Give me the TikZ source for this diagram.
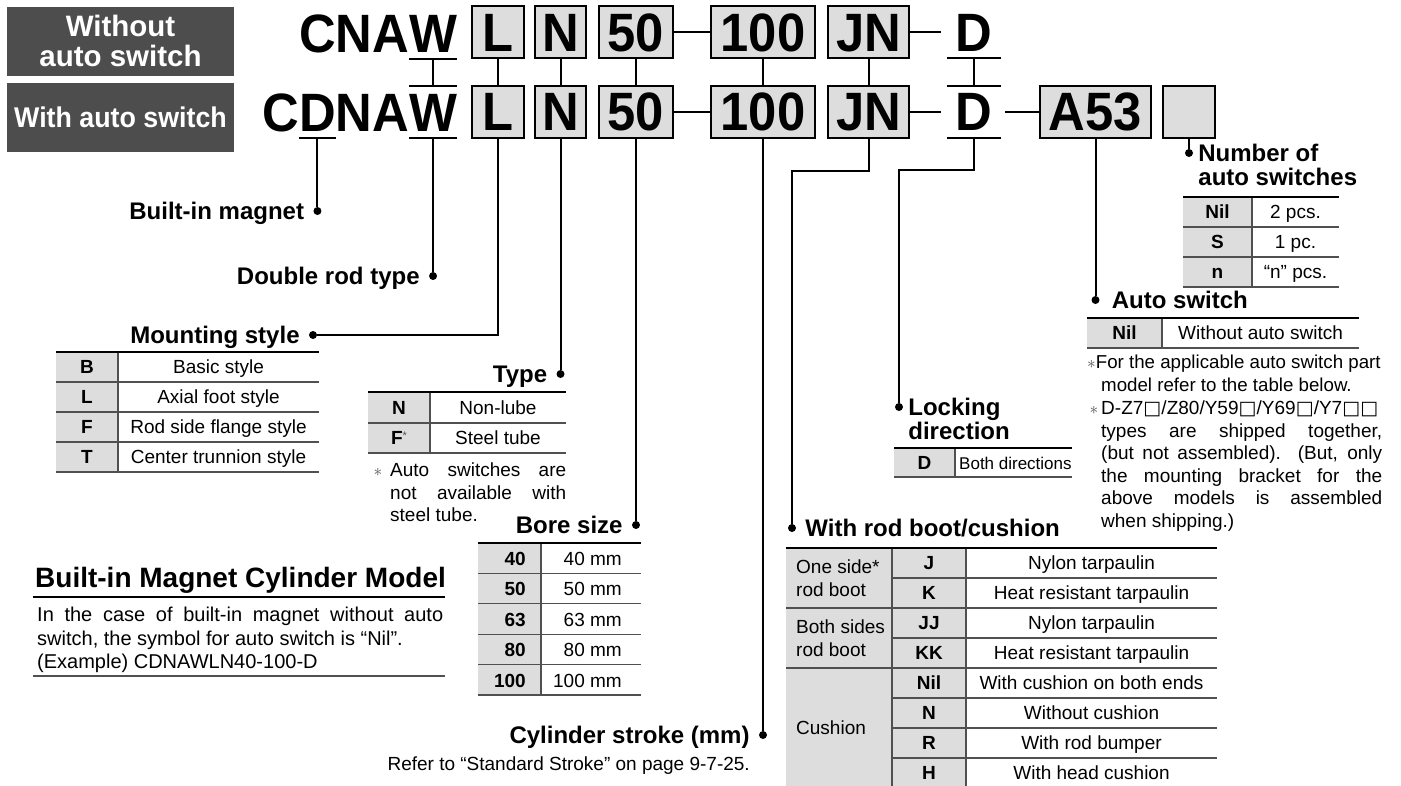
\documentclass[tikz,border=0pt]{standalone}
\usepackage{fontspec}
\setmainfont{Liberation Sans}
\newfontfamily\codefont[FakeStretch=0.94]{Liberation Sans}
\newfontfamily\symfont{DejaVu Sans}
\usetikzlibrary{positioning}
\setlength{\parindent}{0pt}
\hyphenpenalty=10000
\exhyphenpenalty=10000
\newcommand{\sqbox}{\makebox[0.95em]{\symfont □}}
\definecolor{headgray}{RGB}{77,77,77}
\definecolor{boxgray}{RGB}{221,221,221}
\definecolor{rulegray}{RGB}{80,80,80}
\tikzset{
  conn/.style={line width=2pt},
  bullet/.style={circle, fill, inner sep=0pt, minimum size=8pt},
  header/.style={fill=headgray, text=white, minimum width=227pt, minimum height=69pt, align=center},
  letter/.style={font=\codefont\bfseries\fontsize{54}{54}\selectfont, inner sep=0pt, outer xsep=0pt, outer ysep=7pt, text height=38pt, text depth=0pt},
  codebox/.style={draw, line width=2pt, fill=boxgray, minimum height=52pt, minimum width=#1, inner sep=0pt, font=\codefont\bfseries\fontsize{54}{54}\selectfont, text height=38pt, text depth=0pt},
  lbl/.style={font=\bfseries\fontsize{24}{26}\selectfont, inner sep=0pt, text height=17pt, text depth=0pt},
  lbltwo/.style={font=\bfseries\fontsize{24}{24}\selectfont, inner sep=0pt, align=left},
  toprule/.style={line width=2.5pt},
  rowrule/.style={line width=1.3pt, draw=rulegray},
  cellc/.style={font=\bfseries\fontsize{19}{19}\selectfont, inner sep=0pt, text height=13.6pt, text depth=0pt},
  celld/.style={font=\fontsize{19}{19}\selectfont, inner sep=0pt, text height=13.6pt, text depth=0pt},
  notetext/.style={font=\fontsize{19}{22.5}\selectfont, inner sep=0pt, align=justify},
}

\begin{document}
\begin{tikzpicture}[x=1pt, y=-1pt]
  \useasboundingbox (0,0) rectangle (1401,785);

  % headers
  \node[header, font=\bfseries\fontsize{29.5}{29.5}\selectfont] (hWithout) at (120.5,41) {Without\\auto switch};
  \node[header, font=\codefont\bfseries\fontsize{28.5}{29}\selectfont] (hWith) at (120.5,117.5) {With auto switch};

  % model codes, top row
  \node[letter, anchor=base east] (w1) at (457,52) {W};
  \node[letter, anchor=base east] (cna1) at (w1.base west) {CNA};
  \node[codebox=52pt] (l1) at (498,32) {L};
  \node[codebox=51pt] (n1) at (560.5,32) {N};
  \node[codebox=74pt] (s1) at (636,32) {50};
  \node[codebox=104pt] (k1) at (763,32) {100};
  \node[codebox=81pt] (j1) at (868.5,32) {JN};
  \node[letter, outer xsep=9pt] (dd1) at (974,32) {D};

  % model codes, bottom row
  \node[letter, anchor=base east] (w2) at (457,131) {W};
  \node[letter, anchor=base east] (na2) at (w2.base west) {NA};
  \node[letter, anchor=base east] (d2) at (na2.base west) {D};
  \node[letter, anchor=base east] (c2) at (d2.base west) {C};
  \node[codebox=52pt] (l2) at (498,111.5) {L};
  \node[codebox=51pt] (n2) at (560.5,111.5) {N};
  \node[codebox=74pt] (s2) at (636,111.5) {50};
  \node[codebox=104pt] (k2) at (763,111.5) {100};
  \node[codebox=81pt] (j2) at (868.5,111.5) {JN};
  \node[letter, outer xsep=9pt] (dd2) at (974,111.5) {D};
  \node[codebox=111pt] (a2) at (1095.5,111.5) {A53};
  \node[codebox=52pt] (e2) at (1189,111.5) {};

  % under- and overlines
  \draw[conn] (w1.south west) -- (w1.south east);
  \draw[conn] (w2.north west) -- (w2.north east);
  \draw[conn] (w2.south west) -- (w2.south east);
  \draw[conn] (d2.south west) -- (d2.south east);
  \draw[conn] (dd1.south west) -- (dd1.south east);
  \draw[conn] (dd2.north west) -- (dd2.north east);
  \draw[conn] (dd2.south west) -- (dd2.south east);

  % links between rows and dashes
  \foreach \a/\b in {w1/w2, l1/l2, n1/n2, s1/s2, k1/k2, j1/j2, dd1/dd2}
    \draw[conn] (\a.south) -- (\b.north);
  \draw[conn] (s1.east) -- (k1.west);
  \draw[conn] (s2.east) -- (k2.west);
  \draw[conn] (j1.east) -- ([xshift=-6pt]dd1.west);
  \draw[conn] (j2.east) -- ([xshift=-6pt]dd2.west);
  \draw[conn] ([xshift=4pt]dd2.east) -- (a2.west);

  % bullets
  \node[bullet] (pMag) at (d2.south |- 0,211) {};
  \node[bullet] (pRod) at (w2.south |- 0,276) {};
  \node[bullet] (pMount) at (313,335) {};
  \node[bullet] (pType) at (n2.south |- 0,374) {};
  \node[bullet] (pBore) at (s2.south |- 0,525) {};
  \node[bullet] (pStroke) at (k2.south |- 0,735) {};
  \node[bullet] (pBoot) at (792,528) {};
  \node[bullet] (pLock) at (899,407) {};
  \node[bullet] (pSwitch) at (a2.south |- 0,300) {};
  \node[bullet] (pNum) at (e2.south |- 0,153) {};

  \draw[conn] (d2.south) -- (pMag);
  \draw[conn] (w2.south) -- (pRod);
  \draw[conn] (l2.south) |- (pMount);
  \draw[conn] (n2.south) -- (pType);
  \draw[conn] (s2.south) -- (pBore);
  \draw[conn] (k2.south) -- (pStroke);
  \draw[conn] (j2.south) -- ++(0,32) -| (pBoot);
  \draw[conn] (dd2.south) -- ++(0,32) -| (pLock);
  \draw[conn] (a2.south) -- (pSwitch);
  \draw[conn] (e2.south) -- (pNum);

  % labels
  \node[lbl, left=9pt of pMag] (tMag) {Built-in magnet};
  \node[lbl, left=9pt of pRod] (tRod) {Double rod type};
  \node[lbl, left=9pt of pMount] (tMount) {Mounting style};
  \node[lbl, left=9pt of pType] (tType) {Type};
  \node[lbl, left=9pt of pBore] (tBore) {Bore size};
  \node[lbl, left=9pt of pStroke] (tStroke) {Cylinder stroke (mm)};
  \node[lbl, right=9pt of pBoot] (tBoot) {With rod boot/cushion};
  \node[lbl, right=12pt of pSwitch] (tSwitch) {Auto switch};
  \node[lbltwo, anchor=north west] (tLock) at ([xshift=5pt, yshift=8.6pt]pLock.east) {Locking\\direction};
  \node[lbltwo, anchor=north west] (tNum) at ([xshift=5pt, yshift=8.6pt]pNum.east) {Number of\\auto switches};
  \node[celld, anchor=base east] (tRefer) at (750,770) {Refer to “Standard Stroke” on page 9-7-25.};

  % mounting style table
  \fill[boxgray] (56,352) rectangle (118,472);
  \foreach \c/\d [count=\i] in {B/Basic style, L/Axial foot style, F/Rod side flange style, T/Center trunnion style} {
    \node[cellc] (mc\i) at (87,{337+30*\i}) {\c};
    \node[celld] (md\i) at (218.5,{337+30*\i}) {\d};
    \draw[rowrule] (56,{352+30*\i}) -- (319,{352+30*\i});
  }
  \draw[rowrule] (118,352) -- (118,472);
  \draw[toprule] (56,352) -- (319,352);

  % type table
  \fill[boxgray] (368,392) rectangle (430,453);
  \node[cellc] (tc1) at (399,407.5) {N};
  \node[celld] (td1) at (498,407.5) {Non-lube};
  \node[cellc] (tc2) at (399,438) {F\raisebox{5pt}{\mdseries\fontsize{11}{11}\selectfont\color{rulegray}*}};
  \node[celld] (td2) at (498,438) {Steel tube};
  \draw[rowrule] (368,423) -- (566,423);
  \draw[rowrule] (368,453) -- (566,453);
  \draw[rowrule] (430,392) -- (430,453);
  \draw[toprule] (368,392) -- (566,392);
  \node[notetext, text width=176pt, anchor=north west] (typeNote) at (390,463)
    {\llap{\textcolor{rulegray}{$\ast$}\hspace{8pt}}Auto switches are\linebreak not available with\linebreak steel tube.};

  % bore size table
  \fill[boxgray] (478,543) rectangle (541,695);
  \foreach \c [count=\i] in {40, 50, 63, 80, 100} {
    \node[cellc, anchor=east] (bc\i) at (526,{528.2+30.4*\i}) {\c};
    \node[celld, anchor=east] (bd\i) at (622,{528.2+30.4*\i}) {\c\ mm};
    \draw[rowrule] (478,{543+30.4*\i}) -- (641,{543+30.4*\i});
  }
  \draw[rowrule] (541,543) -- (541,695);
  \draw[toprule] (478,543) -- (641,543);

  % built-in magnet cylinder model
  \node[anchor=base west, inner sep=0pt, font=\bfseries\fontsize{28}{28}\selectfont] (tModel) at (35,587) {Built-in Magnet Cylinder Model};
  \draw[toprule] (33,597) -- (445,597);
  \node[notetext, text width=406pt, anchor=north west, font=\fontsize{20}{23.5}\selectfont] (modelNote) at (37,607)
    {In the case of built-in magnet without auto switch, the symbol for auto switch is “Nil”.\\(Example) CDNAWLN40-100-D};
  \draw[rowrule] (33,676) -- (445,676);

  % locking direction table
  \fill[boxgray] (894,448) rectangle (955,477);
  \node[cellc] (lc1) at (924.5,462.5) {D};
  \node[celld, anchor=west, font=\fontsize{17}{17}\selectfont] (ld1) at (959,462.5) {Both directions};
  \draw[rowrule] (894,477) -- (1072,477);
  \draw[rowrule] (955,448) -- (955,477);
  \draw[toprule] (894,448) -- (1072,448);

  % auto switch table
  \fill[boxgray] (1087,318) rectangle (1162,348);
  \node[cellc] (ac1) at (1124.5,333) {Nil};
  \node[celld] (ad1) at (1260.5,333) {Without auto switch};
  \draw[rowrule] (1087,348) -- (1359,348);
  \draw[rowrule] (1162,318) -- (1162,348);
  \draw[toprule] (1087,318) -- (1359,318);
  \node[notetext, align=left, anchor=north west, font=\fontsize{18.7}{22.5}\selectfont] (swNote1) at (1087,355)
    {\textcolor{rulegray}{$\ast$}For the applicable auto switch part\\\hspace*{14pt}model refer to the table below.};
  \node[notetext, text width=281pt, anchor=north west] (swNote2) at (1101,401)
    {\llap{\textcolor{rulegray}{$\ast$}\hspace{3pt}}D-Z7\sqbox/Z80/Y59\sqbox/Y69\sqbox/Y7\sqbox\sqbox\linebreak types are shipped together,\linebreak (but not assembled). (But, only\linebreak the mounting bracket for the\linebreak above models is assembled\linebreak when shipping.)};

  % number of auto switches table
  \fill[boxgray] (1183,197) rectangle (1252,287);
  \foreach \c/\d [count=\i] in {Nil/2 pcs., S/1 pc., n/“n” pcs.} {
    \node[cellc] (nc\i) at (1217.5,{182+30*\i}) {\c};
    \node[celld] (nd\i) at (1295.5,{182+30*\i}) {\d};
    \draw[rowrule] (1183,{197+30*\i}) -- (1339,{197+30*\i});
  }
  \draw[rowrule] (1252,197) -- (1252,287);
  \draw[toprule] (1183,197) -- (1339,197);

  % rod boot / cushion table
  \fill[boxgray] (786,548) rectangle (966,790);
  \foreach \c/\d [count=\i] in {J/Nylon tarpaulin, K/Heat resistant tarpaulin, JJ/Nylon tarpaulin, KK/Heat resistant tarpaulin, Nil/With cushion on both ends, N/Without cushion, R/With rod bumper, H/With head cushion} {
    \node[cellc] (rc\i) at (929,{533+30*\i}) {\c};
    \node[celld] (rd\i) at (1091.5,{533+30*\i}) {\d};
  }
  \foreach \i in {1,3,5,6,7}
    \draw[rowrule] (892,{548+30*\i}) -- (1217,{548+30*\i});
  \foreach \i in {2,4}
    \draw[rowrule] (786,{548+30*\i}) -- (1217,{548+30*\i});
  \draw[rowrule] (892,548) -- (892,790);
  \draw[rowrule] (966,548) -- (966,790);
  \draw[toprule] (786,548) -- (1217,548);
  \node[celld, anchor=west, align=left, text height=, font=\fontsize{19}{23}\selectfont] (rg1) at (796,578) {One side*\\rod boot};
  \node[celld, anchor=west, align=left, text height=, font=\fontsize{19}{23}\selectfont] (rg2) at (796,638) {Both sides\\rod boot};
  \node[celld, anchor=west] (rg3) at (796,728) {Cushion};
\end{tikzpicture}
\end{document}
